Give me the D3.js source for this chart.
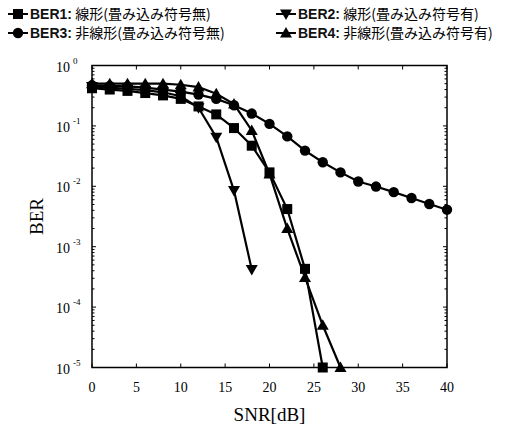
<!DOCTYPE html>
<html><head><meta charset="utf-8">
<script src="https://cdn.jsdelivr.net/npm/d3@7"></script>
<style>body{margin:0;background:#fff}</style>
</head><body>
<svg id="c" width="511" height="432"></svg>
<script>
const snr1 = [0,2,4,6,8,10,12,14,16,18,20,22,24,26];
const ber1 = [0.42,0.40,0.38,0.35,0.32,0.28,0.21,0.155,0.092,0.047,0.017,0.0042,0.00043,0.00001];
const snr2 = [0,2,4,6,8,10,12,14,16,18];
const ber2 = [0.45,0.43,0.41,0.39,0.36,0.31,0.20,0.065,0.0085,0.00042];
const snr3 = [0,2,4,6,8,10,12,14,16,18,20,22,24,26,28,30,32,34,36,38,40];
const ber3 = [0.47,0.46,0.45,0.43,0.40,0.37,0.33,0.28,0.22,0.16,0.108,0.067,0.039,0.025,0.017,0.012,0.0099,0.008,0.0064,0.0051,0.0041];
const snr4 = [0,2,4,6,8,10,12,14,16,18,20,22,24,26,28];
const ber4 = [0.50,0.50,0.50,0.50,0.50,0.48,0.44,0.34,0.23,0.084,0.016,0.002,0.00031,0.00005,0.00001];
const xTicks = [0,5,10,15,20,25,30,35,40];
const yExps = [0,-1,-2,-3,-4,-5];
const legendNames = ["BER1","BER2","BER3","BER4"];
const legendDesc = ["線形(畳み込み符号無)","線形(畳み込み符号有)","非線形(畳み込み符号無)","非線形(畳み込み符号有)"];

const svg = d3.select("#c");
const L=92,R=447,T=65.5,B=367.5;
const x = d3.scaleLinear().domain([0,40]).range([L,R]);
const y = d3.scaleLog().domain([1e-5,1]).range([B,T]);

const g = svg.append("g");
g.append("rect").attr("x",L).attr("y",T).attr("width",R-L).attr("height",B-T)
 .attr("fill","none").attr("stroke","#000").attr("stroke-width",1.5);

xTicks.forEach(v=>{
  g.append("line").attr("x1",x(v)).attr("x2",x(v)).attr("y1",B).attr("y2",B-4).attr("stroke","#000");
  g.append("line").attr("x1",x(v)).attr("x2",x(v)).attr("y1",T).attr("y2",T+4).attr("stroke","#000");
  g.append("text").attr("x",x(v)).attr("y",B+24).attr("text-anchor","middle")
   .attr("font-family","Liberation Serif").attr("font-size",14).text(v);
});
for(let e=-5;e<=0;e++){
  const v=Math.pow(10,e);
  g.append("line").attr("x1",L).attr("x2",L+4).attr("y1",y(v)).attr("y2",y(v)).attr("stroke","#000");
  g.append("line").attr("x1",R).attr("x2",R-4).attr("y1",y(v)).attr("y2",y(v)).attr("stroke","#000");
  if(e<0){
    for(let m=2;m<=9;m++){
      const mv=m*v;
      g.append("line").attr("x1",L).attr("x2",L+2.5).attr("y1",y(mv)).attr("y2",y(mv)).attr("stroke","#000");
      g.append("line").attr("x1",R).attr("x2",R-2.5).attr("y1",y(mv)).attr("y2",y(mv)).attr("stroke","#000");
    }
  }
}
yExps.forEach(e=>{
  const t=g.append("text").attr("x",56).attr("y",y(Math.pow(10,e))+6)
   .attr("font-family","Liberation Serif").attr("font-size",14);
  t.append("tspan").text("10");
  t.append("tspan").attr("dx",3).attr("dy",-8).attr("font-size",9).text(e===0?"0":String(e));
});

g.append("text").attr("x",(L+R)/2).attr("y",421).attr("text-anchor","middle")
 .attr("font-family","Liberation Serif").attr("font-size",19).text("SNR[dB]");
g.append("text").attr("transform",`translate(43,${(T+B)/2}) rotate(-90)`).attr("text-anchor","middle")
 .attr("font-family","Liberation Serif").attr("font-size",19).text("BER");

function marker(sel,type,cx,cy){
  if(type==="square"){
    sel.append("rect").attr("x",cx-5).attr("y",cy-5).attr("width",10).attr("height",10).attr("fill","#000");
  } else if(type==="circle"){
    sel.append("circle").attr("cx",cx).attr("cy",cy).attr("r",5.2).attr("fill","#000");
  } else if(type==="down"){
    sel.append("path").attr("d",`M${cx-6},${cy-4.5}L${cx+6},${cy-4.5}L${cx},${cy+6}Z`).attr("fill","#000");
  } else {
    sel.append("path").attr("d",`M${cx-6},${cy+4.5}L${cx+6},${cy+4.5}L${cx},${cy-6}Z`).attr("fill","#000");
  }
}

const series=[
  {xs:snr3,ys:ber3,type:"circle"},
  {xs:snr4,ys:ber4,type:"up"},
  {xs:snr1,ys:ber1,type:"square"},
  {xs:snr2,ys:ber2,type:"down"},
];
const line=d3.line().x(d=>x(d[0])).y(d=>y(d[1]));
series.forEach(s=>{
  const pts=s.xs.map((v,i)=>[v,s.ys[i]]);
  g.append("path").attr("d",line(pts)).attr("fill","none").attr("stroke","#000").attr("stroke-width",2.2);
});
series.forEach(s=>{
  s.xs.forEach((v,i)=>marker(g,s.type,x(v),y(s.ys[i])));
});

const leg=[{t:"square",x:8,y:14},{t:"down",x:276,y:14},{t:"circle",x:8,y:33},{t:"up",x:276,y:33}];
leg.forEach((l,i)=>{
  g.append("line").attr("x1",l.x).attr("x2",l.x+20).attr("y1",l.y).attr("y2",l.y).attr("stroke","#000").attr("stroke-width",2);
  marker(g,l.t,l.x+10,l.y);
  const t=g.append("text").attr("x",l.x+22).attr("y",l.y+5).attr("font-family","Liberation Sans, Noto Sans CJK JP").attr("font-size",14);
  t.append("tspan").attr("font-weight","bold").attr("fill","#111").text(legendNames[i]+":");
  t.append("tspan").attr("font-family","Noto Sans CJK JP").attr("font-size",14).text(" "+legendDesc[i]);
});
</script>
</body></html>
